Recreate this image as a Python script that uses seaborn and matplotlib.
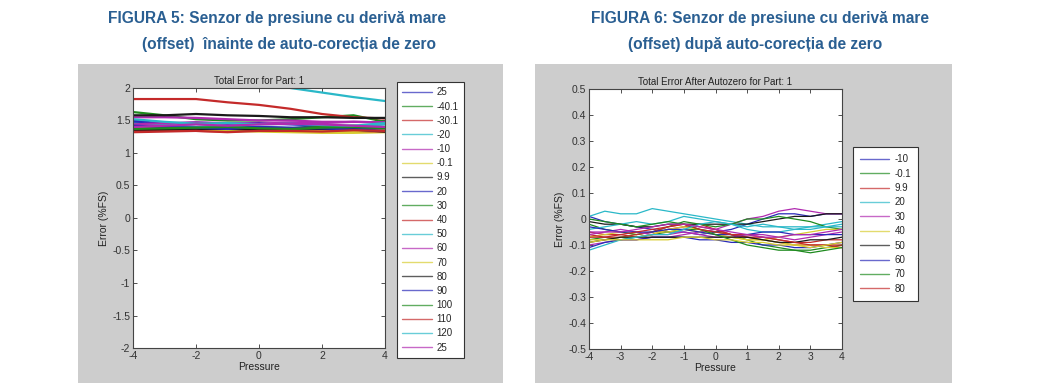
import numpy as np
import pandas as pd
import matplotlib
matplotlib.use("Agg")
import matplotlib.pyplot as plt
from matplotlib.patches import Rectangle
import seaborn as sns

# === Data ===
pressure_left = [-4, -3, -2, -1, 0, 1, 2, 3, 4]
temps_left = ["25", "-40.1", "-30.1", "-20", "-10", "-0.1", "9.9", "20", "30", "40",
              "50", "60", "70", "80", "90", "100", "110", "120", "25"]
error_left = [
    [1.48, 1.42, 1.40, 1.42, 1.40, 1.38, 1.42, 1.40, 1.38],
    [1.63, 1.58, 1.52, 1.50, 1.50, 1.52, 1.55, 1.58, 1.48],
    [1.83, 1.83, 1.83, 1.78, 1.74, 1.68, 1.60, 1.55, 1.53],
    [2.40, 2.35, 2.30, 2.20, 2.10, 2.00, 1.93, 1.86, 1.80],
    [1.55, 1.55, 1.54, 1.52, 1.50, 1.50, 1.48, 1.48, 1.47],
    [1.33, 1.35, 1.36, 1.34, 1.33, 1.32, 1.31, 1.31, 1.32],
    [1.58, 1.58, 1.60, 1.58, 1.57, 1.55, 1.55, 1.54, 1.54],
    [1.50, 1.45, 1.47, 1.45, 1.46, 1.44, 1.42, 1.38, 1.35],
    [1.40, 1.38, 1.37, 1.36, 1.36, 1.38, 1.40, 1.42, 1.40],
    [1.35, 1.36, 1.34, 1.33, 1.35, 1.36, 1.35, 1.34, 1.33],
    [1.45, 1.43, 1.40, 1.40, 1.38, 1.36, 1.37, 1.40, 1.44],
    [1.44, 1.46, 1.47, 1.46, 1.45, 1.47, 1.46, 1.48, 1.47],
    [1.38, 1.37, 1.36, 1.35, 1.37, 1.35, 1.34, 1.33, 1.35],
    [1.36, 1.36, 1.37, 1.37, 1.36, 1.38, 1.37, 1.36, 1.33],
    [1.42, 1.40, 1.39, 1.37, 1.40, 1.39, 1.38, 1.36, 1.34],
    [1.37, 1.38, 1.39, 1.40, 1.38, 1.37, 1.39, 1.40, 1.38],
    [1.32, 1.33, 1.34, 1.32, 1.34, 1.34, 1.33, 1.35, 1.34],
    [1.52, 1.48, 1.45, 1.46, 1.44, 1.45, 1.43, 1.42, 1.46],
    [1.40, 1.42, 1.44, 1.42, 1.44, 1.45, 1.44, 1.42, 1.40],
]

pressure_right = [-4, -3.5, -3, -2.5, -2, -1.5, -1, -0.5, 0, 0.5, 1, 1.5, 2, 2.5, 3, 3.5, 4]
temps_right = ["-10", "-0.1", "9.9", "20", "30", "40", "50", "60", "70", "80"]
error_right = [
    [0.01, -0.01, -0.02, -0.03, -0.04, -0.05, -0.05, -0.06, -0.05, -0.04, -0.02, 0.00, 0.02, 0.02, 0.01, 0.02, 0.02],
    [-0.08, -0.07, -0.08, -0.07, -0.06, -0.05, -0.04, -0.04, -0.05, -0.06, -0.08, -0.10, -0.11, -0.12, -0.12, -0.11, -0.10],
    [-0.05, -0.06, -0.06, -0.07, -0.06, -0.04, -0.03, -0.02, -0.04, -0.06, -0.07, -0.08, -0.09, -0.10, -0.10, -0.10, -0.11],
    [0.01, 0.03, 0.02, 0.02, 0.04, 0.03, 0.02, 0.01, 0.00, -0.01, -0.02, -0.03, -0.03, -0.03, -0.03, -0.02, -0.01],
    [-0.10, -0.09, -0.08, -0.08, -0.07, -0.07, -0.06, -0.05, -0.04, -0.02, 0.00, 0.01, 0.03, 0.04, 0.03, 0.02, 0.02],
    [-0.07, -0.06, -0.05, -0.06, -0.05, -0.05, -0.04, -0.05, -0.06, -0.07, -0.08, -0.08, -0.09, -0.10, -0.10, -0.11, -0.11],
    [-0.01, -0.02, -0.02, -0.03, -0.03, -0.02, -0.02, -0.02, -0.02, -0.02, -0.02, -0.01, 0.00, 0.01, 0.01, 0.02, 0.02],
    [-0.11, -0.09, -0.08, -0.08, -0.07, -0.07, -0.07, -0.08, -0.08, -0.09, -0.09, -0.10, -0.10, -0.11, -0.11, -0.10, -0.09],
    [-0.02, -0.04, -0.05, -0.06, -0.05, -0.03, -0.01, -0.02, -0.03, -0.02, 0.00, 0.00, 0.01, 0.00, -0.01, -0.03, -0.04],
    [-0.06, -0.07, -0.07, -0.06, -0.05, -0.03, -0.02, -0.03, -0.04, -0.06, -0.07, -0.07, -0.08, -0.09, -0.09, -0.08, -0.08],
    # runs drawn but not named in the legend
    [-0.04, -0.03, -0.02, -0.01, -0.02, -0.01, 0.01, 0.00, -0.01, -0.02, -0.04, -0.05, -0.05, -0.04, -0.03, -0.03, -0.02],
    [-0.05, -0.05, -0.04, -0.05, -0.06, -0.06, -0.05, -0.06, -0.07, -0.07, -0.06, -0.06, -0.07, -0.08, -0.07, -0.06, -0.05],
    [-0.08, -0.08, -0.07, -0.07, -0.06, -0.04, -0.03, -0.04, -0.06, -0.07, -0.08, -0.08, -0.07, -0.06, -0.05, -0.04, -0.04],
    [-0.09, -0.08, -0.07, -0.07, -0.07, -0.07, -0.07, -0.07, -0.07, -0.07, -0.07, -0.08, -0.09, -0.09, -0.08, -0.08, -0.07],
    [-0.03, -0.04, -0.05, -0.05, -0.05, -0.04, -0.04, -0.05, -0.06, -0.06, -0.06, -0.05, -0.05, -0.06, -0.06, -0.06, -0.06],
    [0.00, -0.01, -0.02, -0.03, -0.02, -0.01, -0.02, -0.04, -0.06, -0.08, -0.10, -0.11, -0.12, -0.12, -0.13, -0.12, -0.11],
    [-0.07, -0.07, -0.06, -0.05, -0.04, -0.03, -0.02, -0.04, -0.05, -0.06, -0.06, -0.07, -0.08, -0.09, -0.10, -0.10, -0.10],
    [-0.12, -0.10, -0.08, -0.07, -0.06, -0.06, -0.04, -0.02, -0.01, -0.02, -0.03, -0.02, -0.03, -0.04, -0.04, -0.03, -0.03],
    [-0.06, -0.05, -0.05, -0.04, -0.03, -0.02, -0.02, -0.03, -0.04, -0.05, -0.06, -0.07, -0.07, -0.06, -0.06, -0.05, -0.04],
    [-0.09, -0.08, -0.08, -0.08, -0.08, -0.08, -0.07, -0.07, -0.08, -0.08, -0.09, -0.09, -0.10, -0.10, -0.11, -0.10, -0.09],
]

# old MATLAB colour order: b g r c m y k (slightly muted, as in the scan)
matlab_colors = ["#2a2ab8", "#1e8a1e", "#c42a2a", "#2ab8c8", "#b02ab0", "#d8cc30", "#1a1a1a"]

caption_left = ["FIGURA 5: Senzor de presiune cu derivă mare",
                "(offset)  înainte de auto-corecția de zero"]
caption_right = ["FIGURA 6: Senzor de presiune cu derivă mare",
                 "(offset) după auto-corecția de zero"]


def to_long(xs, runs):
    rows = []
    for i, ys in enumerate(runs):
        for x, y in zip(xs, ys):
            rows.append({"Pressure": x, "Error": y, "run": f"r{i:02d}"})
    return pd.DataFrame(rows)


sns.set_style("white")
plt.rcParams["font.family"] = ["Liberation Sans", "DejaVu Sans"]
plt.rcParams["axes.unicode_minus"] = False

W, H = 1042, 389
fig = plt.figure(figsize=(W / 100, H / 100), dpi=100)
fig.patch.set_facecolor("white")

# grey MATLAB figure backgrounds (behind the axes)
for x0, x1 in [(78, 503), (535, 952)]:
    fig.patches.append(Rectangle((x0 / W, 1 - 383 / H), (x1 - x0) / W, (383 - 64) / H,
                                 transform=fig.transFigure, facecolor="#cdcdcd",
                                 edgecolor="none", zorder=-10))

# captions
cap_font = dict(fontsize=11.2, fontweight="bold", color="#2a5f92", ha="center", va="center")
fig.text(277 / W, 1 - 19 / H, caption_left[0], **cap_font)
fig.text(289 / W, 1 - 45 / H, caption_left[1], **cap_font)
fig.text(760 / W, 1 - 19 / H, caption_right[0], **cap_font)
fig.text(755 / W, 1 - 45 / H, caption_right[1], **cap_font)


def style_axes(ax, xticks, yticks, title):
    ax.set_facecolor("white")
    ax.set_xlim(xticks[0], xticks[-1])
    ax.set_ylim(yticks[0], yticks[-1])
    ax.set_xticks(xticks)
    ax.set_yticks(yticks)
    ax.set_xticklabels([f"{v:g}" for v in xticks])
    ax.set_yticklabels([f"{v:g}" for v in yticks])
    ax.tick_params(direction="in", length=3, width=0.6, labelsize=7.5, pad=2,
                   top=True, right=True, bottom=True, left=True, colors="#333333")
    for s in ax.spines.values():
        s.set_visible(True)
        s.set_color("#444444")
        s.set_linewidth(0.8)
    ax.set_title(title, fontsize=7, pad=3, color="#222222")
    ax.set_xlabel("Pressure", fontsize=7.5, labelpad=1, color="#222222")
    ax.set_ylabel("Error (%FS)", fontsize=7.5, labelpad=2, color="#222222")


leg_kw = dict(loc="upper left", bbox_transform=fig.transFigure, borderaxespad=0,
              fontsize=7, handlelength=3.0, handletextpad=0.5, fancybox=False,
              framealpha=1, edgecolor="#333333")

# === Left: before autozero ===
ax1 = fig.add_axes([133 / W, 1 - 348 / H, 252 / W, 260 / H])
df_left = to_long(pressure_left, error_left)
pal_left = [matlab_colors[i % 7] for i in range(len(error_left))]
sns.lineplot(data=df_left, x="Pressure", y="Error", hue="run", palette=pal_left,
             estimator=None, sort=False, linewidth=1.6, legend=False, ax=ax1)
style_axes(ax1, [-4, -2, 0, 2, 4], [-2, -1.5, -1, -0.5, 0, 0.5, 1, 1.5, 2],
           "Total Error for Part: 1")
leg1 = ax1.legend(ax1.lines[:len(temps_left)], temps_left,
                  bbox_to_anchor=(397 / W, 1 - 82 / H), labelspacing=0.43,
                  borderpad=0.55, **leg_kw)
leg1.get_frame().set_linewidth(0.8)
for h in leg1.get_lines():
    h.set_linewidth(1.0)
    h.set_alpha(0.7)

# === Right: after autozero ===
ax2 = fig.add_axes([589 / W, 1 - 349 / H, 253 / W, 260 / H])
df_right = to_long(pressure_right, error_right)
pal_right = [matlab_colors[i % 7] for i in range(len(error_right))]
sns.lineplot(data=df_right, x="Pressure", y="Error", hue="run", palette=pal_right,
             estimator=None, sort=False, linewidth=0.9, legend=False, ax=ax2)
style_axes(ax2, [-4, -3, -2, -1, 0, 1, 2, 3, 4],
           [-0.5, -0.4, -0.3, -0.2, -0.1, 0, 0.1, 0.2, 0.3, 0.4, 0.5],
           "Total Error After Autozero for Part: 1")
leg2 = ax2.legend(ax2.lines[:len(temps_right)], temps_right,
                  bbox_to_anchor=(853 / W, 1 - 147 / H), labelspacing=0.45,
                  borderpad=0.75, **leg_kw)
leg2.get_frame().set_linewidth(0.8)
for h in leg2.get_lines():
    h.set_linewidth(1.0)
    h.set_alpha(0.7)

fig.savefig("out.png", dpi=100, facecolor="white")
plt.close(fig)
